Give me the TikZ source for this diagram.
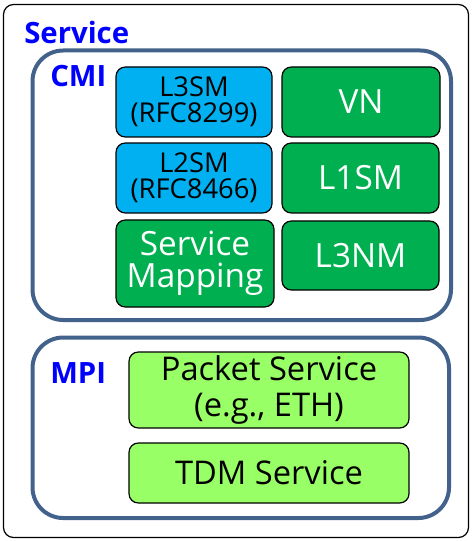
\documentclass[tikz,border=0pt]{standalone}
\usepackage{fontspec}
\setmainfont{Open Sans}
\definecolor{frameblue}{RGB}{66,98,140}
\definecolor{skyfill}{RGB}{0,176,240}
\definecolor{greenfill}{RGB}{0,176,80}
\definecolor{limefill}{RGB}{153,255,102}
\definecolor{labelblue}{RGB}{0,0,255}
\tikzset{
  pane/.style={draw=frameblue, line width=3pt, rounded corners=23pt},
  tag/.style={text=labelblue, font=\bfseries\fontsize{22}{26}\selectfont, inner sep=0pt},
  box/.style={draw=black, line width=0.9pt, rounded corners=7pt, align=center, inner sep=0pt},
  skybox/.style={box, fill=skyfill, text=black, font=\fontsize{20.5}{19.5}\selectfont},
  greenbox/.style={box, fill=greenfill, text=white, font=\fontsize{25}{24}\selectfont},
  limebox/.style={box, fill=limefill, text=black, font=\fontsize{24.5}{27}\selectfont},
}
\begin{document}
\begin{tikzpicture}[x=0.75pt, y=-0.75pt]
  \useasboundingbox (0,0) rectangle (471,541);
  % outer frame
  \draw[black, line width=0.9pt, rounded corners=7.5pt] (3.5,4.5) rectangle (468.5,537.5);
  \node[tag, anchor=base west] (service) at (24,44) {Service};
  % CMI group
  \draw[pane] (32.5,50.5) rectangle (451,320);
  \node[tag, anchor=base west] (cmi) at (50,87) {CMI};
  \node[skybox, minimum width=117pt, minimum height=52.5pt] (l3sm) at (194,102) {L3SM\\(RFC8299)};
  \node[greenbox, minimum width=118.5pt, minimum height=52.5pt] (vn) at (361,102) {VN};
  \node[skybox, minimum width=117pt, minimum height=52.5pt] (l2sm) at (194,178) {L2SM\\(RFC8466)};
  \node[greenbox, minimum width=117.75pt, minimum height=52.5pt] (l1sm) at (360.5,178) {L1SM};
  \node[greenbox, minimum width=118.5pt, minimum height=65.25pt] (smap) at (195,263.5) {Service\\Mapping};
  \node[greenbox, minimum width=117.75pt, minimum height=51.75pt] (l3nm) at (360.5,255.5) {L3NM};
  % MPI group
  \draw[pane] (32.5,337.5) rectangle (449,518);
  \node[tag, anchor=base west] (mpi) at (50,383) {MPI};
  \node[limebox, minimum width=210pt, minimum height=57pt] (pkt) at (269,390) {Packet Service\\(e.g., ETH)};
  \node[limebox, minimum width=210pt, minimum height=45pt] (tdm) at (269,473) {TDM Service};
\end{tikzpicture}
\end{document}
